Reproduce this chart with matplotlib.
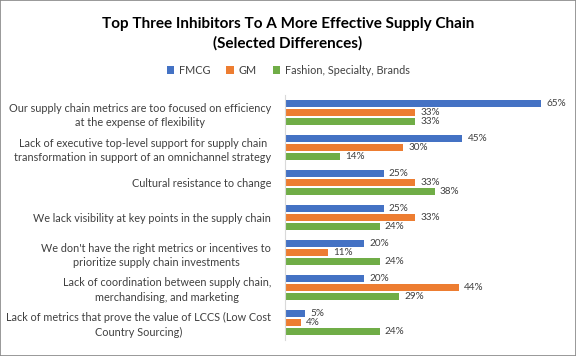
import numpy as np
import matplotlib.pyplot as plt

# ====== Data ======
categories = [
    "Our supply chain metrics are too focused on efficiency\nat the expense of flexibility",
    "Lack of executive top-level support for supply chain\ntransformation in support of an omnichannel strategy",
    "Cultural resistance to change",
    "We lack visibility at key points in the supply chain",
    "We don't have the right metrics or incentives to\nprioritize supply chain investments",
    "Lack of coordination between supply chain,\nmerchandising, and marketing",
    "Lack of metrics that prove the value of LCCS (Low Cost\nCountry Sourcing)",
]
fmcg = [65, 45, 25, 25, 20, 20, 5]
gm = [33, 30, 33, 33, 11, 44, 4]
fashion = [33, 14, 38, 24, 24, 29, 24]
series_names = ["FMCG", "GM", "Fashion, Specialty, Brands"]
colors = ["#4472C4", "#ED7D31", "#70AD47"]

plt.rcParams['font.family'] = ['Lato', 'DejaVu Sans']

fig = plt.figure(figsize=(5.76, 3.56), dpi=100)
fig.patches.append(plt.Rectangle((0, 0), 1, 1, transform=fig.transFigure,
                                 fill=False, edgecolor='#888888', lw=1.2))
ax = fig.add_axes([0.495, 0.045, 0.479, 0.688])

y = np.arange(len(categories))
h = 0.2
step = 0.257
for k, (vals, name, c) in enumerate(zip([fmcg, gm, fashion], series_names, colors)):
    pos = y + (k - 1) * step
    bars = ax.barh(pos, vals, height=h, color=c, label=name)
    for b, v in zip(bars, vals):
        ax.text(v + 1.3, b.get_y() + h / 2, f"{v}%", va='center', ha='left',
                fontsize=7.2, color='#404040')

ax.set_xlim(0, 70)
ax.set_ylim(len(categories) - 0.5, -0.5)
ax.set_yticks(y)
ax.set_yticklabels(categories, fontsize=7.8, color='#404040', ha='right',
                   multialignment='center', linespacing=1.35)
ax.tick_params(axis='y', length=0, pad=10)
ax.set_xticks([])
for s in ['top', 'right', 'bottom']:
    ax.spines[s].set_visible(False)
ax.spines['left'].set_color('#D9D9D9')

fig.text(0.5, 0.905, "Top Three Inhibitors To A More Effective Supply Chain\n(Selected Differences)",
         ha='center', va='center', fontsize=11, fontweight='bold', linespacing=1.45)
fig.legend(loc='center', bbox_to_anchor=(0.5, 0.803), ncol=3, frameon=False,
           fontsize=7.8, handlelength=0.7, handleheight=0.7, columnspacing=1.5,
           handletextpad=0.4, labelcolor='#404040')

fig.savefig("out.png", dpi=100)
